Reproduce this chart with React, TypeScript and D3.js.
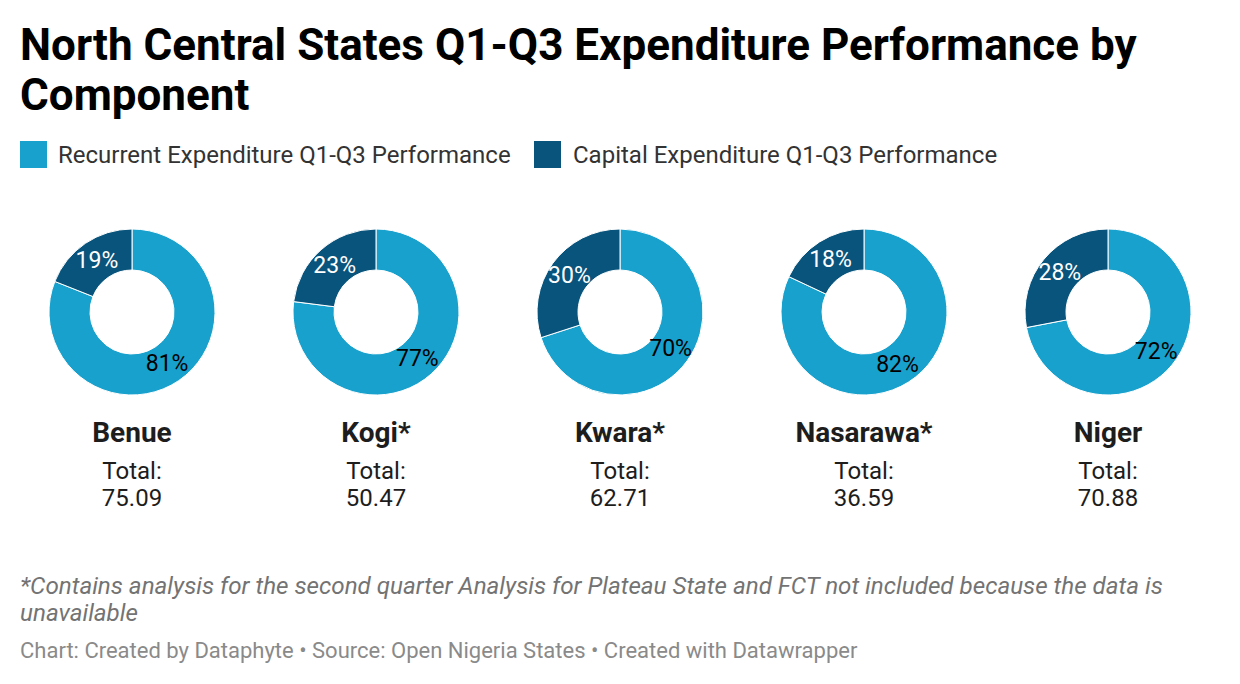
import React from "react";
import * as d3 from "d3";

const states = ["Benue", "Kogi*", "Kwara*", "Nasarawa*", "Niger"];
const recurrent = [81, 77, 70, 82, 72];
const capital = [19, 23, 30, 18, 28];
const totals = ["75.09", "50.47", "62.71", "36.59", "70.88"];
const seriesNames = [
  "Recurrent Expenditure Q1-Q3 Performance",
  "Capital Expenditure Q1-Q3 Performance",
];
const colors = ["#18a1cd", "#09547c"];
const labelColors = ["#000000", "#ffffff"];

const W = 1240;
const H = 684;

export default function App() {
  const x = d3.scaleBand<string>().domain(states).range([10, 1230]);
  const cy = 312;
  const outerR = 83;
  const innerR = 42;
  const pie = d3
    .pie<number>()
    .sort(null)
    .value((d) => d);
  const arc = d3.arc<d3.PieArcDatum<number>>().innerRadius(innerR).outerRadius(outerR);
  const labelArc = d3
    .arc<d3.PieArcDatum<number>>()
    .innerRadius((innerR + outerR) / 2)
    .outerRadius((innerR + outerR) / 2);

  return (
    <svg
      width={W}
      height={H}
      style={{ position: "absolute", left: 0, top: 0, fontFamily: "Roboto, sans-serif", background: "#fff" }}
    >
      <text fontWeight="700" fontSize={44} fill="#000">
        <tspan x={20} y={60}>North Central States Q1-Q3 Expenditure Performance by</tspan>
        <tspan x={20} y={110}>Component</tspan>
      </text>

      {/* legend */}
      <g>
        <rect x={20} y={141} width={27} height={27} fill={colors[0]} />
        <text x={58} y={163} fontSize={24} fill="#333">{seriesNames[0]}</text>
        <rect x={534} y={141} width={27} height={27} fill={colors[1]} />
        <text x={573} y={163} fontSize={24} fill="#333">{seriesNames[1]}</text>
      </g>

      {states.map((s, i) => {
        const cx = (x(s) as number) + x.bandwidth() / 2;
        const arcs = pie([recurrent[i], capital[i]]);
        return (
          <g key={s}>
            <g transform={`translate(${cx},${cy})`}>
              {arcs.map((a, j) => (
                <path key={j} d={arc(a) as string} fill={colors[j]} stroke="#fff" strokeWidth={1} />
              ))}
              {arcs.map((a, j) => {
                const [lx, ly] = labelArc.centroid(a);
                return (
                  <text
                    key={"l" + j}
                    x={lx}
                    y={ly}
                    textAnchor="middle"
                    dominantBaseline="central"
                    fontSize={23}
                    fill={labelColors[j]}
                  >
                    {(j === 0 ? recurrent[i] : capital[i]) + "%"}
                  </text>
                );
              })}
            </g>
            <text x={cx} y={442} textAnchor="middle" fontWeight="700" fontSize={28} fill="#1d1d1d">
              {s}
            </text>
            <text x={cx} y={479} textAnchor="middle" fontSize={24} fill="#1d1d1d">
              Total:
            </text>
            <text x={cx} y={506} textAnchor="middle" fontSize={24} fill="#1d1d1d">
              {totals[i]}
            </text>
          </g>
        );
      })}

      <text fontSize={24.2} fontStyle="italic" fill="#737373">
        <tspan x={20} y={594}>
          *Contains analysis for the second quarter Analysis for Plateau State and FCT not included because the data is
        </tspan>
        <tspan x={20} y={621}>unavailable</tspan>
      </text>
      <text x={20} y={658} fontSize={22} fill="#8a8a8a">
        Chart: Created by Dataphyte • Source: Open Nigeria States • Created with Datawrapper
      </text>
    </svg>
  );
}
